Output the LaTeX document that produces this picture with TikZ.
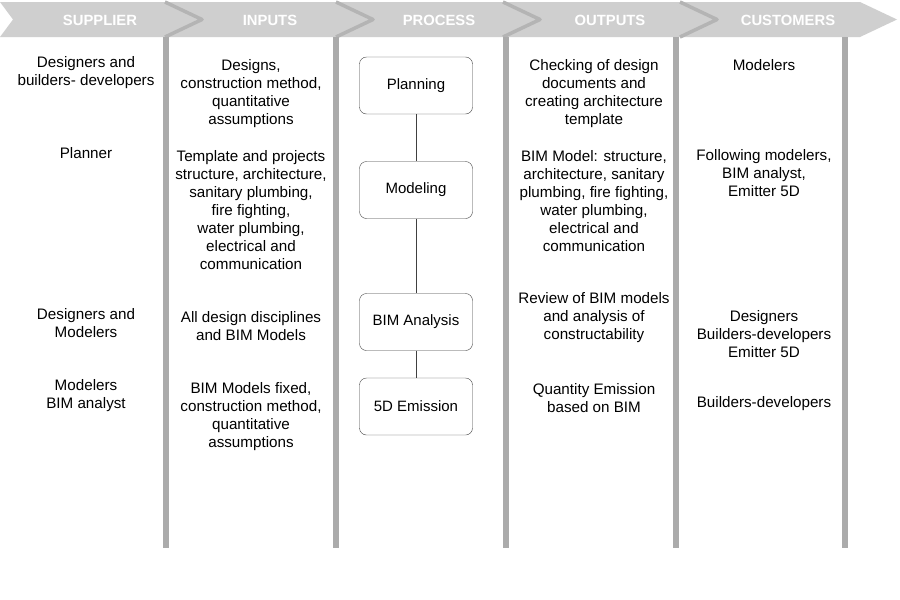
\documentclass[tikz,border=0pt]{standalone}
\usepackage{fontspec}
\setmainfont{Liberation Sans}
\usepackage{xcolor}
\usetikzlibrary{positioning,calc}
\definecolor{hdrgray}{HTML}{CFCFCF}
\definecolor{chevgray}{HTML}{B4B4B4}
\definecolor{bargray}{HTML}{ABABAB}
\definecolor{boxline}{HTML}{404040}
\tikzset{
  cell/.style = {align = center, inner sep = 0pt, font = \fontsize{15.2}{18}\selectfont},
  head/.style = {text = white, font = \fontsize{14.8}{18}\selectfont\bfseries},
  procbox/.style = {draw = boxline, rounded corners = 7pt, fill = white, minimum width = 113pt, minimum height = 57pt, font = \fontsize{15}{18}\selectfont}
}
\begin{document}
\begin{tikzpicture}[x = 1pt, y = -1pt]
    \fill[white] (0,0) rectangle (900,600);
    \useasboundingbox (0,0) rectangle (900,600);
    % header band
    \fill[hdrgray] (0,2) -- (860,2) -- (897,19.5) -- (860,37) -- (0,37) -- (13,19.5) -- cycle;
    \foreach \t in {202, 373, 540, 717}
        \draw[chevgray, line width = 3.5pt, line join = round] (\t-37,2) -- (\t,19.5) -- (\t-37,37);
    \node[head] (hsup) at (100,20) {SUPPLIER};
    \node[head] (hinp) at (270,20) {INPUTS};
    \node[head] (hpro) at (439,20) {PROCESS};
    \node[head] (hout) at (610,20) {OUTPUTS};
    \node[head] (hcus) at (788,20) {CUSTOMERS};
    % column bars
    \foreach \x in {166, 336, 506, 676, 845}
        \draw[bargray, line width = 6pt] (\x,37) -- (\x,548);
    % supplier
    \node[cell] (sup1) at (86,73) {Designers and\\builders- developers};
    \node[cell] (sup2) at (86,153.5) {Planner};
    \node[cell] (sup3) at (86,323.5) {Designers and\\Modelers};
    \node[cell] (sup4) at (86,395.5) {Modelers\\BIM analyst};
    % inputs
    \node[cell] (inp1) at (251,93.5) {Designs,\\construction method,\\quantitative\\assumptions};
    \node[cell] (inp2) at (251,210.5) {Template and projects\\structure, architecture,\\sanitary plumbing,\\fire fighting,\\water plumbing,\\electrical and\\communication};
    \node[cell] (inp3) at (251,326.5) {All design disciplines\\and BIM Models};
    \node[cell] (inp4) at (251,416.5) {BIM Models fixed,\\construction method,\\quantitative\\assumptions};
    % process
    \node[procbox] (plan) at (416,85.5) {Planning};
    \node[procbox] (model) at (416,190) {Modeling};
    \node[procbox] (bim) at (416,322) {BIM Analysis};
    \node[procbox] (emis) at (416,406.5) {5D Emission};
    \draw[boxline] (plan) -- (model);
    \draw[boxline] (model) -- (bim);
    \draw[boxline] (bim) -- (emis);
    % outputs
    \node[cell] (out1) at (594,93.5) {Checking of design\\documents and\\creating architecture\\template};
    \node[cell] (out2) at (594,201.5) {BIM Model: structure,\\architecture, sanitary\\plumbing, fire fighting,\\water plumbing,\\electrical and\\communication};
    \node[cell] (out3) at (594,317.5) {Review of BIM models\\and analysis of\\constructability};
    \node[cell] (out4) at (594,398.5) {Quantity Emission\\based on BIM};
    % customers
    \node[cell] (cus1) at (764,65.5) {Modelers};
    \node[cell] (cus2) at (764,173.5) {Following modelers,\\BIM analyst,\\Emitter 5D};
    \node[cell] (cus3) at (764,334.5) {Designers\\Builders-developers\\Emitter 5D};
    \node[cell] (cus4) at (764,403.5) {Builders-developers};
\end{tikzpicture}
\end{document}
